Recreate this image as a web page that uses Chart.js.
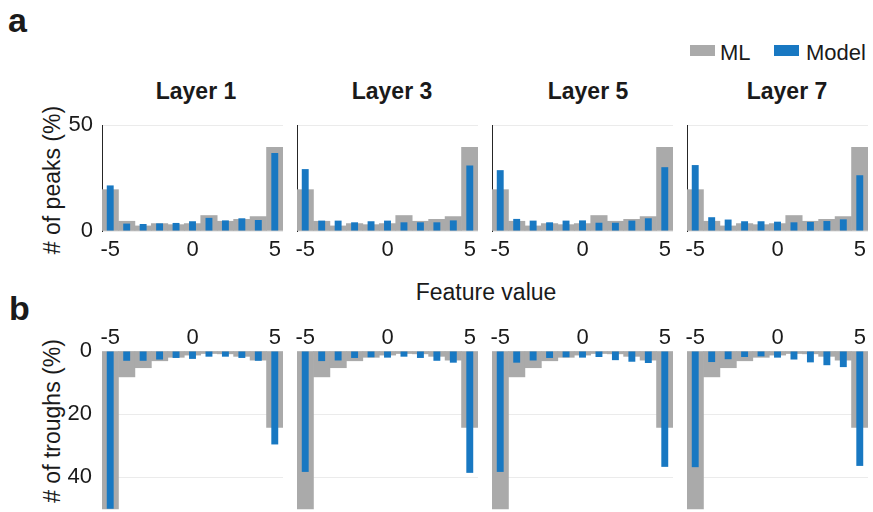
<!DOCTYPE html>
<html>
<head>
<meta charset="utf-8">
<script src="https://cdn.jsdelivr.net/npm/chart.js@4.4.1/dist/chart.umd.min.js"></script>
<style>
  html, body { margin: 0; padding: 0; background: #ffffff; }
  body { width: 873px; height: 512px; position: relative; overflow: hidden;
         font-family: "Liberation Sans", Arial, Helvetica, sans-serif; color: #1a1a1a; }
  canvas { position: absolute; }
  .txt { position: absolute; white-space: nowrap; }
  .panel-letter { font-weight: bold; font-size: 34px; line-height: 34px; }
  .layer-title { font-weight: bold; font-size: 23px; line-height: 23px; transform: translateX(-50%); }
  .ylab { font-size: 23px; line-height: 23px; transform: translate(-50%, -50%) rotate(-90deg); }
  .xlab { font-size: 23px; line-height: 23px; transform: translateX(-50%); }
  .legend-box { position: absolute; width: 25px; height: 11px; }
  .legend-text { font-size: 22px; line-height: 22px; }
</style>
</head>
<body>

<div class="txt panel-letter" style="left:8px; top:3px;">a</div>
<div class="txt panel-letter" style="left:9px; top:291px;">b</div>

<div class="legend-box" style="left:690px; top:45px; background:#aaaaaa;"></div>
<div class="txt legend-text" style="left:720px; top:42px;">ML</div>
<div class="legend-box" style="left:774px; top:45px; background:#1878c2;"></div>
<div class="txt legend-text" style="left:806px; top:42px;">Model</div>

<div class="txt layer-title" style="left:196px; top:80px;">Layer 1</div>
<div class="txt layer-title" style="left:392px; top:80px;">Layer 3</div>
<div class="txt layer-title" style="left:588px; top:80px;">Layer 5</div>
<div class="txt layer-title" style="left:787px; top:80px;">Layer 7</div>

<div class="txt ylab" style="left:52px; top:180px;"># of peaks (%)</div>
<div class="txt ylab" style="left:52px; top:421px;"># of troughs (%)</div>
<div class="txt xlab" style="left:486px; top:281px;">Feature value</div>

<script>
// Feature-value bins shared by every panel
const categories = ['-5', '-4', '-3', '-2', '-1', '0', '1', '2', '3', '4', '5'];
const labeledTicks = ['-5', '0', '5'];
const layerNames = ['Layer 1', 'Layer 3', 'Layer 5', 'Layer 7'];

// Peaks (%) – measured distribution and model layers
const mlPeaks      = [19.5, 4.6, 2.4, 3.5, 3.0, 3.5, 7.3, 4.6, 5.5, 6.8, 39.5];
const modelPeaksL1 = [21.5, 3.5, 3.3, 3.6, 3.8, 4.6, 6.2, 5.0, 6.0, 5.2, 36.8];
const modelPeaksL3 = [29.2, 4.9, 4.9, 4.1, 4.6, 4.9, 4.1, 4.1, 4.1, 5.0, 30.9];
const modelPeaksL5 = [28.7, 5.7, 4.9, 4.1, 4.9, 5.0, 3.9, 3.9, 4.9, 6.0, 30.1];
const modelPeaksL7 = [31.1, 6.5, 5.4, 4.6, 4.6, 4.4, 4.1, 4.3, 4.7, 5.5, 26.3];

// Troughs (%) – measured distribution and model layers
const mlTroughs      = [50.0, 8.2, 5.3, 3.1, 2.0, 1.3, 0.8, 0.9, 1.7, 2.9, 24.2];
const modelTroughsL1 = [50.0, 3.1, 3.1, 2.7, 2.2, 2.5, 1.8, 1.8, 2.2, 3.1, 29.6];
const modelTroughsL3 = [38.3, 3.2, 3.0, 2.2, 2.0, 2.1, 1.8, 2.2, 3.1, 3.7, 38.6];
const modelTroughsL5 = [38.3, 3.7, 3.0, 2.2, 2.0, 2.1, 1.9, 2.9, 3.4, 3.8, 36.7];
const modelTroughsL7 = [36.8, 3.5, 2.6, 1.9, 1.7, 2.1, 2.7, 3.6, 4.5, 5.1, 36.4];

const modelPeaks = [modelPeaksL1, modelPeaksL3, modelPeaksL5, modelPeaksL7];
const modelTroughs = [modelTroughsL1, modelTroughsL3, modelTroughsL5, modelTroughsL7];

const ML_COLOR = '#aaaaaa';
const MODEL_COLOR = '#1878c2';
const TEXT_COLOR = '#1a1a1a';
const FONT = { family: '"Liberation Sans", Arial, Helvetica, sans-serif', size: 22 };

// Plot-area geometry for the four columns
const plotLefts = [102, 297, 492, 687];
const plotWidth = 181;
const Y_AXIS_W = 50;

function makeCanvas(left, top, width, height) {
  const c = document.createElement('canvas');
  c.width = width; c.height = height;
  c.style.left = left + 'px'; c.style.top = top + 'px';
  c.style.width = width + 'px'; c.style.height = height + 'px';
  document.body.appendChild(c);
  return c;
}

function datasets(mlValues, modelValues) {
  return [
    { label: 'ML', data: mlValues, backgroundColor: ML_COLOR, borderWidth: 0,
      grouped: false, barPercentage: 1.0, categoryPercentage: 1.0, order: 2 },
    { label: 'Model', data: modelValues, backgroundColor: MODEL_COLOR, borderWidth: 0,
      grouped: false, barPercentage: 0.42, categoryPercentage: 1.0, order: 1 }
  ];
}

function xTickLabel(value) {
  const lab = categories[value];
  return labeledTicks.includes(lab) ? lab : '';
}

// fixed y-axis width, and no extra room reserved for the edge tick labels
function fixYAxis(s) {
  s.width = Y_AXIS_W;
  s.paddingTop = 0;
  s.paddingBottom = 0;
}

function drawPanel(col, isPeaks) {
  const left = plotLefts[col] - Y_AXIS_W;
  const showY = col === 0;
  let canvas, yScale, xScale, padding;

  if (isPeaks) {
    canvas = makeCanvas(left, 105, Y_AXIS_W + plotWidth + 10, 161);
    padding = { top: 20, right: 10, left: 0, bottom: 0 };
    xScale = {
      position: 'bottom', offset: true,
      grid: { display: false, drawTicks: false }, border: { display: false },
      ticks: { autoSkip: false, maxRotation: 0, padding: 6, color: TEXT_COLOR, font: FONT,
               callback: xTickLabel },
      afterFit: s => { s.height = 35; }
    };
    yScale = {
      min: 0, max: 50,
      grid: { color: '#ebebeb', lineWidth: 1, drawTicks: false },
      border: { display: true, color: '#262626', width: 1 },
      ticks: { display: showY, stepSize: 50, padding: 9, color: TEXT_COLOR, font: FONT },
      afterFit: fixYAxis
    };
  } else {
    canvas = makeCanvas(left, 300, Y_AXIS_W + plotWidth + 10, 212);
    padding = { top: 0, right: 10, left: 0, bottom: 0 };
    xScale = {
      position: 'top', offset: true,
      grid: { display: false, drawTicks: false }, border: { display: false },
      ticks: { autoSkip: false, maxRotation: 0, padding: 0, color: TEXT_COLOR, font: FONT,
               callback: xTickLabel },
      afterFit: s => { s.height = 51; }
    };
    yScale = {
      min: 0, max: 51, reverse: true,
      grid: { color: '#ebebeb', lineWidth: 1, drawTicks: false },
      border: { display: false },
      ticks: { display: showY, stepSize: 20, includeBounds: false, padding: 10,
               color: TEXT_COLOR, font: FONT },
      afterFit: fixYAxis
    };
  }

  new Chart(canvas, {
    type: 'bar',
    data: {
      labels: categories,
      datasets: datasets(isPeaks ? mlPeaks : mlTroughs,
                         isPeaks ? modelPeaks[col] : modelTroughs[col])
    },
    options: {
      responsive: false,
      animation: false,
      devicePixelRatio: 1,
      layout: { padding },
      plugins: { legend: { display: false }, tooltip: { enabled: false },
                 title: { display: false } },
      scales: { x: xScale, y: yScale }
    }
  });
}

for (let col = 0; col < layerNames.length; col++) {
  drawPanel(col, true);
  drawPanel(col, false);
}
</script>
</body>
</html>
